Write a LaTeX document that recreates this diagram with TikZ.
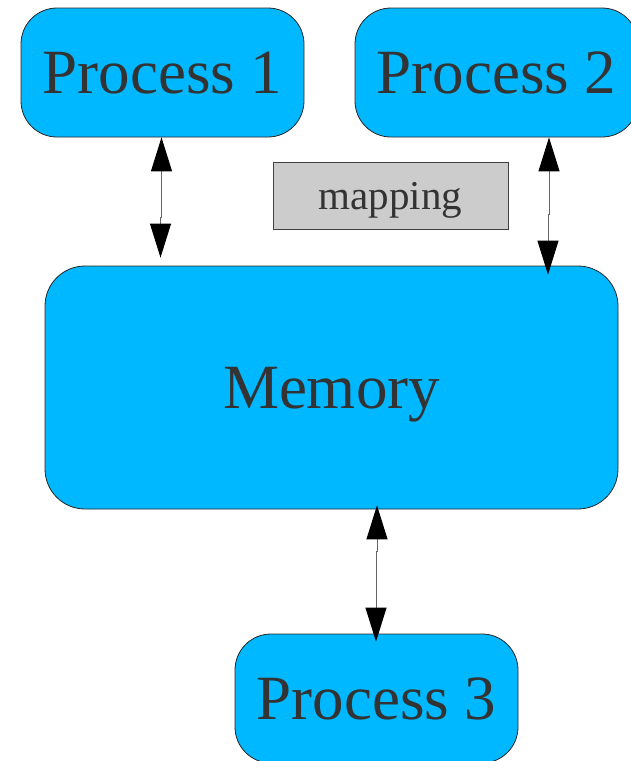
\documentclass[tikz,border=0pt]{standalone}
\usepackage{fontspec}
\setmainfont{Liberation Serif}
\usetikzlibrary{arrows.meta}
\definecolor{boxblue}{RGB}{0,184,255}
\definecolor{txtgray}{RGB}{51,51,51}
\definecolor{mapgray}{RGB}{204,204,204}
\begin{document}
\begin{tikzpicture}[x=1pt,y=-1pt,
  procbox/.style={draw=black!85, line width=0.8pt, fill=boxblue, rounded corners=36pt,
    minimum width=283pt, minimum height=129pt, inner sep=0pt, text=txtgray,
    font=\fontsize{63}{70}\selectfont, text depth=0pt},
  membox/.style={procbox, minimum width=573pt, minimum height=243pt, rounded corners=40pt},
  mapbox/.style={draw=black!75, line width=0.8pt, fill=mapgray, minimum width=235pt,
    minimum height=67pt, inner sep=0pt, text=txtgray,
    font=\fontsize{41}{48}\selectfont, text depth=0pt},
  link/.style={draw=black!60, line width=1pt,
    {Triangle[width=21pt,length=34pt,color=black]}-{Triangle[width=21pt,length=34pt,color=black]}}
]
\useasboundingbox (0,0) rectangle (631,761);
\node[procbox] (p1) at (162.5,72.5) {Process 1};
\node[procbox] (p2) at (496.5,72.5) {Process 2};
\node[mapbox] (map) at (390.5,195.5) {mapping};
\node[membox] (mem) at (331.5,387.5) {Memory};
\node[procbox] (p3) at (376.5,698.5) {Process 3};
\draw[link] ([xshift=-1pt]p1.south) -- ++(0,80) -- ++(-1,0)
  -- ([xshift=-2pt,yshift=8pt]p1.south |- mem.north);
\draw[link] ([xshift=52.5pt]p2.south) -- ++(0,77) -- ++(-1,0)
  -- ([xshift=216.5pt,yshift=-9pt]mem.north);
\draw[link] ([xshift=45.5pt,yshift=4pt]mem.south) -- ++(0,46) -- ++(-1,0)
  -- ([xshift=-0.5pt,yshift=-8pt]p3.north);
\end{tikzpicture}
\end{document}
